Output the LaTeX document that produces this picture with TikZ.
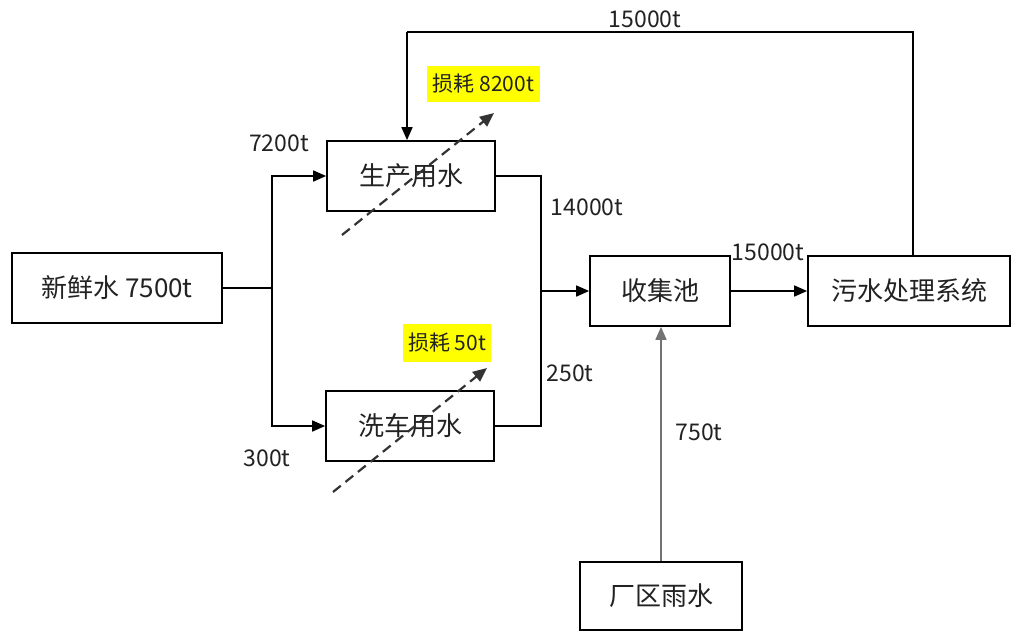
\documentclass[tikz,border=0pt]{standalone}
\usepackage{fontspec}
\setmainfont{Noto Sans CJK SC}
\usetikzlibrary{arrows.meta}
\definecolor{txt}{HTML}{222222}
\definecolor{hl}{HTML}{FFFF00}
\tikzset{
  box/.style={draw=black, line width=1.7pt, fill=white, inner sep=0pt, text=txt, font=\fontsize{26}{29}\selectfont},
  lbl/.style={inner sep=0pt, text=txt, font=\fontsize{23}{26}\selectfont},
  loss/.style={fill=hl, inner sep=2pt, text=txt, font=\fontsize{21}{24}\selectfont},
  conn/.style={draw=black, line width=1.7pt},
  arr/.style={conn, -{Triangle[length=13pt,width=11pt]}},
  lossarr/.style={draw=black!80, line width=2.2pt, dash pattern=on 10pt off 6pt, -{Triangle[length=14pt,width=12pt]}},
}
\begin{document}
\begin{tikzpicture}[x=1pt,y=-1pt]
\useasboundingbox (0,0) rectangle (1014,632);
\node[box, minimum width=210pt, minimum height=70pt] (fresh) at (117,288) {新鲜水 7500t};
\node[box, minimum width=168pt, minimum height=70pt] (prod) at (411,176) {生产用水};
\node[box, minimum width=168pt, minimum height=70pt] (wash) at (410,426) {洗车用水};
\node[box, minimum width=140pt, minimum height=70pt] (pool) at (660,291) {收集池};
\node[box, minimum width=202pt, minimum height=70pt] (sew) at (909,291) {污水处理系统};
\node[box, minimum width=162pt, minimum height=68pt] (rain) at (661,596) {厂区雨水};

\coordinate (j1) at (272,288);
\coordinate (j2) at (541,291);
\coordinate (c1) at (913,32);
\coordinate (c2) at (407,32);

\draw[conn] (fresh.east) -- (j1);
\draw[arr] (j1) |- (prod.west);
\draw[arr] (j1) |- (wash.west);
\draw[conn] (prod.east) -| (j2);
\draw[conn] (wash.east) -| (j2);
\draw[arr] (j2) -- (pool.west);
\draw[arr] (pool.east) -- (sew.west);
\draw[conn] (sew.north -| c1) -- (c1) -- (c2);
\draw[arr] (c2) -- (prod.north -| c2);
\draw[arr, draw=black!55] (rain.north) -- (rain.north |- pool.south);

\coordinate (d1s) at (342,235);
\coordinate (d1e) at (494,113);
\coordinate (d2s) at (333,492);
\coordinate (d2e) at (487,368);
\draw[lossarr] (d1s) -- (d1e);
\draw[lossarr] (d2s) -- (d2e);

\node[loss, minimum width=113pt, minimum height=36pt] (l1) at (483.5,84) {损耗 8200t};
\node[loss, minimum width=88pt, minimum height=38pt] (l2) at (447,343) {损耗 50t};

\node[lbl] (t7200) at (279,143) {7200t};
\node[lbl] (t300) at (267,458) {300t};
\node[lbl] (t14000) at (587,207) {14000t};
\node[lbl] (t250) at (570,373) {250t};
\node[lbl] (t750) at (699,432) {750t};
\node[lbl] (t15000a) at (768,252) {15000t};
\node[lbl] (t15000b) at (645,19) {15000t};
\end{tikzpicture}
\end{document}
